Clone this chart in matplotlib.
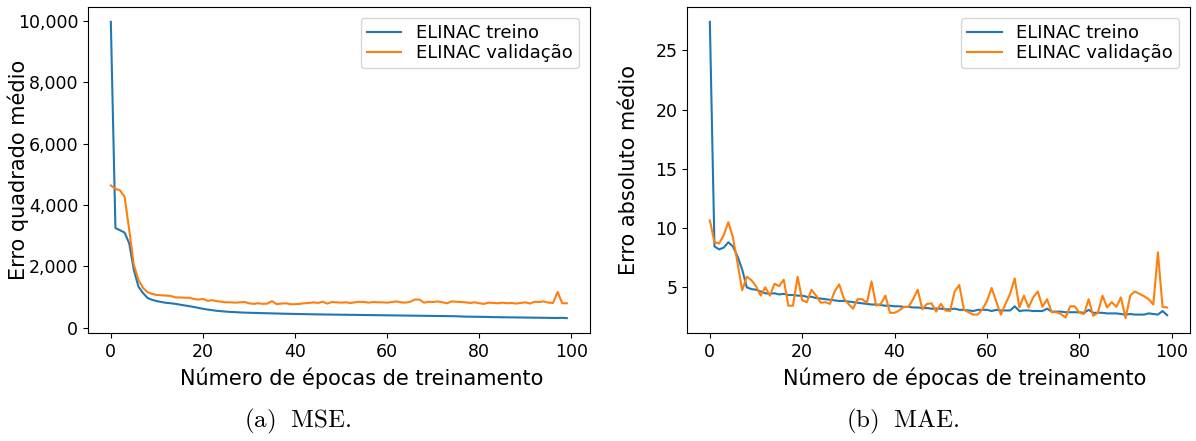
import numpy as np
import matplotlib
matplotlib.use("Agg")
import matplotlib.pyplot as plt
from matplotlib.ticker import FuncFormatter

plt.rcParams['mathtext.fontset'] = 'cm'

# MSE per epoch
mse_treino = [9970, 3250, 3180, 3100, 2750, 1880, 1340, 1130, 970, 910,
              870, 840, 815, 800, 780, 755, 730, 705, 680, 650,
              620, 595, 575, 555, 540, 528, 518, 510, 502, 495,
              490, 486, 482, 478, 474, 470, 466, 462, 458, 455,
              452, 449, 446, 443, 440, 437, 435, 433, 431, 429,
              427, 425, 423, 421, 419, 417, 415, 413, 411, 409,
              407, 405, 403, 401, 399, 397, 395, 393, 391, 389,
              387, 385, 383, 381, 379, 377, 370, 365, 362, 360,
              358, 356, 352, 348, 346, 344, 342, 340, 338, 336,
              334, 332, 330, 328, 326, 324, 322, 320, 325, 315]
mse_valid = [4640, 4530, 4480, 4260, 3180, 2050, 1560, 1300, 1160, 1100,
             1070, 1060, 1050, 1040, 990, 990, 980, 980, 940, 920,
             940, 880, 900, 870, 850, 830, 830, 820, 830, 840,
             800, 780, 800, 780, 790, 870, 770, 790, 800, 770,
             770, 780, 800, 810, 830, 810, 850, 790, 840, 830,
             820, 830, 810, 830, 850, 840, 820, 840, 830, 830,
             820, 840, 860, 830, 820, 850, 920, 920, 820, 850,
             840, 860, 830, 800, 860, 850, 840, 830, 810, 830,
             800, 780, 820, 810, 800, 820, 800, 810, 790, 810,
             830, 790, 850, 840, 860, 820, 810, 1170, 800, 800]

# MAE per epoch
mae_treino = [27.4, 8.45, 8.2, 8.35, 8.8, 8.45, 7.6, 6.5, 5.0, 4.85,
              4.8, 4.65, 4.5, 4.45, 4.5, 4.4, 4.45, 4.35, 4.35, 4.3,
              4.3, 4.2, 4.2, 4.1, 4.05, 4.0, 3.95, 3.9, 3.85, 3.85,
              3.8, 3.75, 3.7, 3.65, 3.6, 3.55, 3.55, 3.5, 3.45, 3.45,
              3.4, 3.4, 3.35, 3.35, 3.3, 3.3, 3.25, 3.25, 3.2, 3.2,
              3.2, 3.15, 3.15, 3.2, 3.1, 3.1, 3.05, 3.0, 3.1, 3.1,
              3.1, 3.0, 3.1, 3.05, 3.05, 3.05, 3.4, 3.0, 3.05, 3.05,
              3.0, 3.0, 3.0, 3.2, 2.95, 2.95, 2.95, 2.9, 2.9, 2.9,
              2.9, 2.85, 3.1, 2.85, 2.85, 2.85, 2.8, 2.8, 2.8, 2.75,
              2.7, 2.75, 2.7, 2.7, 2.7, 2.8, 2.75, 2.7, 3.0, 2.65]
mae_valid = [10.65, 8.8, 8.7, 9.4, 10.5, 9.2, 7.05, 4.75, 5.9, 5.6,
             5.1, 4.3, 5.0, 4.3, 5.3, 5.1, 5.65, 3.45, 3.45, 5.9,
             3.9, 3.75, 4.8, 4.3, 3.7, 3.75, 3.6, 4.65, 5.25, 4.05,
             3.6, 3.2, 4.0, 4.0, 3.7, 5.5, 3.45, 3.6, 4.3, 2.85,
             2.85, 3.05, 3.35, 3.35, 4.0, 4.8, 3.15, 3.6, 3.65, 2.95,
             3.6, 3.05, 3.0, 4.65, 5.2, 3.1, 2.9, 2.7, 2.7, 3.15,
             3.85, 4.95, 3.8, 2.7, 3.6, 4.45, 5.75, 3.3, 4.3, 3.3,
             4.15, 4.65, 3.35, 4.0, 2.9, 2.9, 2.75, 2.45, 3.4, 3.4,
             2.85, 2.75, 4.0, 2.6, 2.85, 4.3, 3.3, 3.75, 3.35, 4.15,
             2.4, 4.3, 4.65, 4.45, 4.25, 4.0, 3.55, 7.95, 3.35, 3.3]

epocas = np.arange(len(mse_treino))

fig = plt.figure(figsize=(11.96, 4.41), dpi=100)
ax1 = fig.add_axes([0.0736, 0.245, 0.4194, 0.739])
ax2 = fig.add_axes([0.5744, 0.245, 0.4206, 0.739])

ax1.plot(epocas, mse_treino, label='ELINAC treino')
ax1.plot(epocas, mse_valid, label='ELINAC validação')
ax1.yaxis.set_major_formatter(FuncFormatter(lambda v, p: '{:,.0f}'.format(v)))
ax1.set_ylabel('Erro quadrado médio', fontsize=15)
ax1.yaxis.set_label_coords(-0.1175, 0.5)

ax2.plot(epocas, mae_treino, label='ELINAC treino')
ax2.plot(epocas, mae_valid, label='ELINAC validação')
ax2.set_ylabel('Erro absoluto médio', fontsize=15)
ax2.yaxis.set_label_coords(-0.095, 0.5)

for ax, lx in ((ax1, 0.546), (ax2, 0.553)):
    ax.set_xlabel('Número de épocas de treinamento', fontsize=15, labelpad=5)
    ax.xaxis.set_label_coords(lx, -0.105)
    ax.tick_params(labelsize=12.5)
    ax.legend(loc='upper right', fontsize=13, handlelength=1.9,
              borderaxespad=0.6, labelspacing=0.1, borderpad=0.35)

fig.text(0.249, 0.03, r'$\mathrm{(a)\ \ MSE.}$', fontsize=18, ha='center')
fig.text(0.755, 0.03, r'$\mathrm{(b)\ \ MAE.}$', fontsize=18, ha='center')

fig.savefig('out.png', dpi=100)
